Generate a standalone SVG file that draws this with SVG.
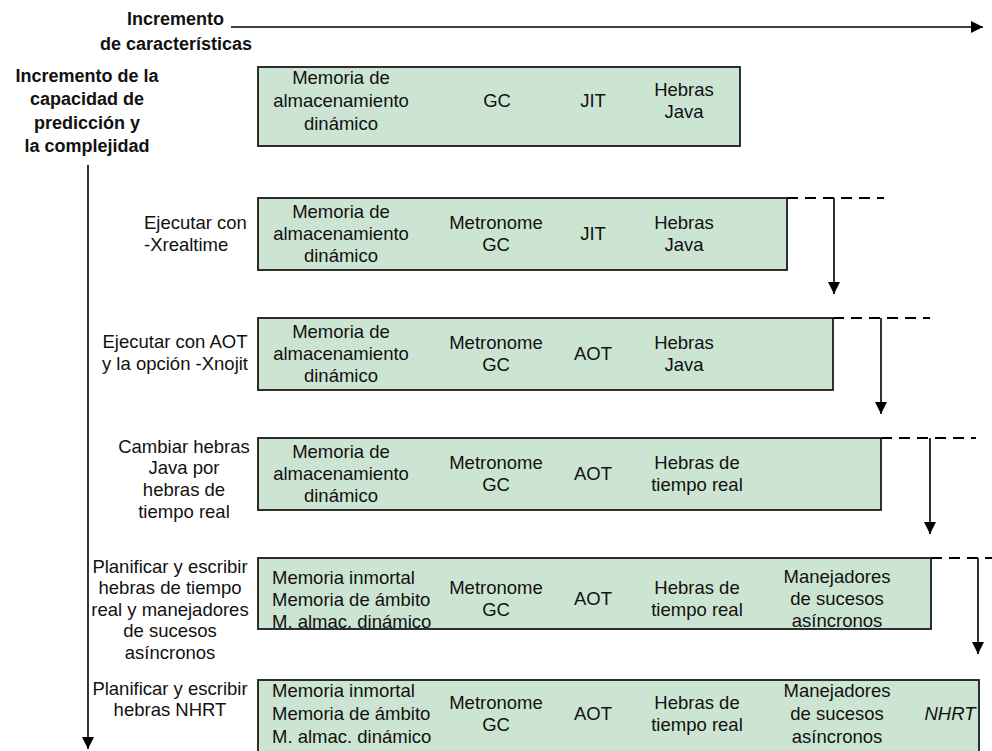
<svg xmlns="http://www.w3.org/2000/svg" width="992" height="751" viewBox="0 0 992 751">
<defs>
<marker id="ah" markerUnits="userSpaceOnUse" markerWidth="12" markerHeight="12" refX="12" refY="6" orient="auto">
<path d="M0,0 L12,6 L0,12 z" fill="#000"/>
</marker>
<style>
text{font-family:"Liberation Sans",Arial,sans-serif;font-size:18.5px;fill:#111;}
.b{font-weight:bold;font-size:18px;}
.m{text-anchor:middle;}
.e{text-anchor:end;}
.box{fill:#cce5d3;stroke:#1a1a1a;stroke-width:1.8;}
.ln{stroke:#000;stroke-width:1.6;fill:none;}
.ds{stroke:#000;stroke-width:2;fill:none;stroke-dasharray:11 7;}
.i{font-style:italic;}
</style>
</defs>
<rect width="992" height="751" fill="#fff"/>

<g id="axis-labels">
<text class="b e" x="224" y="25">Incremento</text>
<text class="b m" x="176" y="50">de características</text>
<text class="b m" x="87" y="82">Incremento de la</text>
<text class="b m" x="87" y="105">capacidad de</text>
<text class="b m" x="87" y="129">predicción y</text>
<text class="b m" x="87" y="152">la complejidad</text>
</g>

<g id="connectors">
<line class="ln" x1="231" y1="27" x2="983" y2="27" marker-end="url(#ah)"/>
<line class="ln" x1="88" y1="165" x2="88" y2="749" marker-end="url(#ah)"/>
<line class="ds" x1="787" y1="198" x2="884" y2="198"/>
<line class="ln" x1="834" y1="198" x2="834" y2="294" marker-end="url(#ah)"/>
<line class="ds" x1="833" y1="318" x2="930" y2="318"/>
<line class="ln" x1="881" y1="318" x2="881" y2="414" marker-end="url(#ah)"/>
<line class="ds" x1="881" y1="438" x2="976" y2="438"/>
<line class="ln" x1="930" y1="438" x2="930" y2="534" marker-end="url(#ah)"/>
<line class="ds" x1="931" y1="558" x2="992" y2="558"/>
<line class="ln" x1="978" y1="558" x2="978" y2="654" marker-end="url(#ah)"/>
</g>

<g id="row1">
<rect class="box" x="258" y="67" width="482" height="79"/>
<text class="m" x="341" y="84">Memoria de</text>
<text class="m" x="341" y="107">almacenamiento</text>
<text class="m" x="341" y="130">dinámico</text>
<text class="m" x="497" y="107">GC</text>
<text class="m" x="593" y="107">JIT</text>
<text class="m" x="684" y="96">Hebras</text>
<text class="m" x="684" y="118">Java</text>
</g>

<g id="row2">
<text x="144" y="229">Ejecutar con</text>
<text x="144" y="251">-Xrealtime</text>
<rect class="box" x="258" y="198" width="529" height="72"/>
<text class="m" x="341" y="218">Memoria de</text>
<text class="m" x="341" y="240">almacenamiento</text>
<text class="m" x="341" y="262">dinámico</text>
<text class="m" x="496" y="229">Metronome</text>
<text class="m" x="496" y="251">GC</text>
<text class="m" x="593" y="240">JIT</text>
<text class="m" x="684" y="229">Hebras</text>
<text class="m" x="684" y="251">Java</text>
</g>

<g id="row3">
<text class="m" x="175" y="348">Ejecutar con AOT</text>
<text class="m" x="175" y="370">y la opción -Xnojit</text>
<rect class="box" x="258" y="318" width="575" height="72"/>
<text class="m" x="341" y="338">Memoria de</text>
<text class="m" x="341" y="360">almacenamiento</text>
<text class="m" x="341" y="382">dinámico</text>
<text class="m" x="496" y="349">Metronome</text>
<text class="m" x="496" y="371">GC</text>
<text class="m" x="593" y="360">AOT</text>
<text class="m" x="684" y="349">Hebras</text>
<text class="m" x="684" y="371">Java</text>
</g>

<g id="row4">
<text class="m" x="184" y="453">Cambiar hebras</text>
<text class="m" x="184" y="474">Java por</text>
<text class="m" x="184" y="496">hebras de</text>
<text class="m" x="184" y="518">tiempo real</text>
<rect class="box" x="258" y="438" width="623" height="72"/>
<text class="m" x="341" y="458">Memoria de</text>
<text class="m" x="341" y="480">almacenamiento</text>
<text class="m" x="341" y="502">dinámico</text>
<text class="m" x="496" y="469">Metronome</text>
<text class="m" x="496" y="491">GC</text>
<text class="m" x="593" y="480">AOT</text>
<text class="m" x="697" y="469">Hebras de</text>
<text class="m" x="697" y="491">tiempo real</text>
</g>

<g id="row5">
<text class="m" x="170" y="573">Planificar y escribir</text>
<text class="m" x="170" y="594">hebras de tiempo</text>
<text class="m" x="170" y="616">real y manejadores</text>
<text class="m" x="170" y="637">de sucesos</text>
<text class="m" x="170" y="659">asíncronos</text>
<rect class="box" x="258" y="558" width="673" height="71"/>
<text x="272" y="584">Memoria inmortal</text>
<text x="272" y="606">Memoria de ámbito</text>
<text x="272" y="628">M. almac. dinámico</text>
<text class="m" x="496" y="594">Metronome</text>
<text class="m" x="496" y="616">GC</text>
<text class="m" x="593" y="605">AOT</text>
<text class="m" x="697" y="594">Hebras de</text>
<text class="m" x="697" y="616">tiempo real</text>
<text class="m" x="837" y="583">Manejadores</text>
<text class="m" x="837" y="605">de sucesos</text>
<text class="m" x="837" y="627">asíncronos</text>
</g>

<g id="row6">
<text class="m" x="170" y="695">Planificar y escribir</text>
<text class="m" x="170" y="716">hebras NHRT</text>
<rect class="box" x="258" y="680" width="721" height="80"/>
<text x="272" y="697">Memoria inmortal</text>
<text x="272" y="720">Memoria de ámbito</text>
<text x="272" y="743">M. almac. dinámico</text>
<text class="m" x="496" y="709">Metronome</text>
<text class="m" x="496" y="731">GC</text>
<text class="m" x="593" y="720">AOT</text>
<text class="m" x="697" y="709">Hebras de</text>
<text class="m" x="697" y="731">tiempo real</text>
<text class="m" x="837" y="697">Manejadores</text>
<text class="m" x="837" y="720">de sucesos</text>
<text class="m" x="837" y="743">asíncronos</text>
<text class="m i" x="950" y="720">NHRT</text>
</g>
</svg>
